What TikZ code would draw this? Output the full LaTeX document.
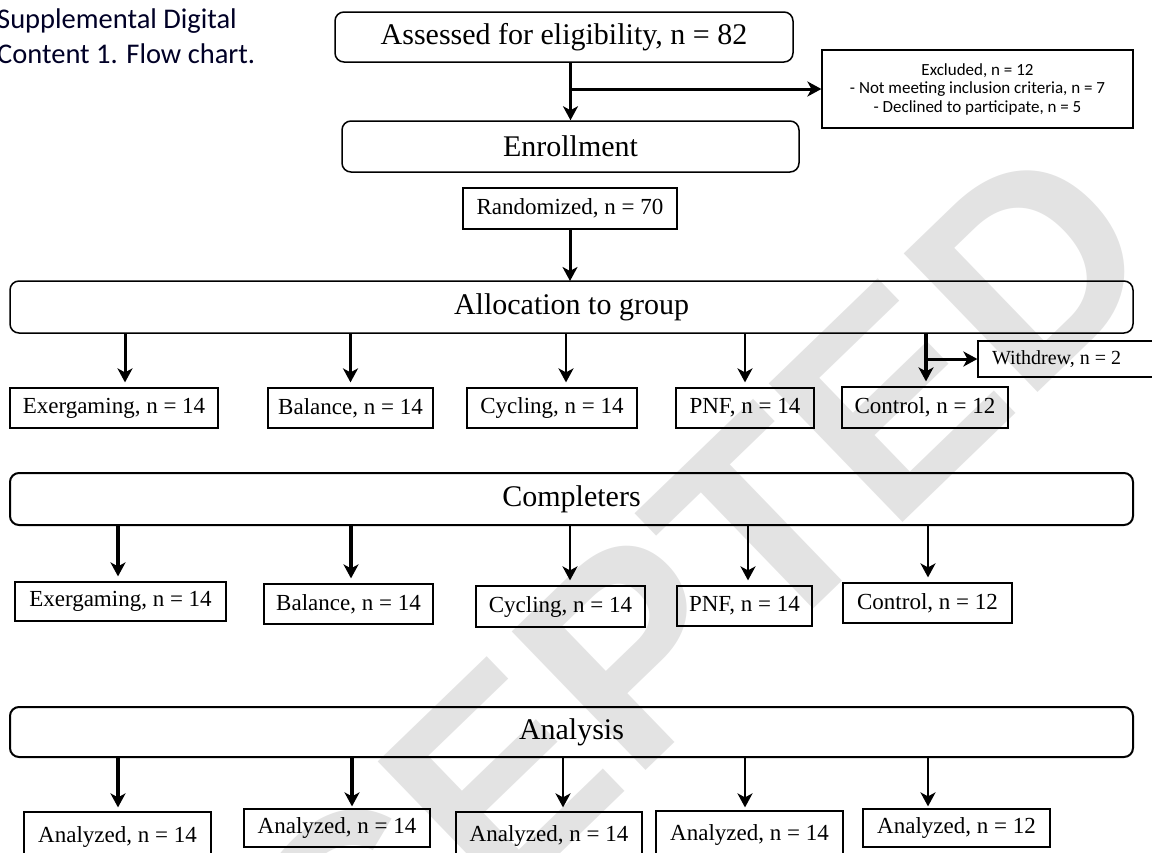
\documentclass[tikz,border=0pt]{standalone}
\usepackage{fontspec}
\setmainfont{Liberation Serif}
\newfontfamily\calib{Carlito}
\newfontfamily\wmfont{Liberation Sans}
\usetikzlibrary{arrows.meta,calc}
\begin{document}
\begin{tikzpicture}[x=1pt,y=-1pt,
 rbox/.style={draw, rounded corners=9pt, line width=1.5pt, inner sep=0pt, font=\fontsize{30}{34}\selectfont},
 sbox/.style={draw, line width=1.2pt, inner sep=0pt, minimum height=40pt, font=\fontsize{23}{27}\selectfont},
 arr/.style={line width=3pt, -{Stealth[length=14pt,width=15pt,inset=4pt]}},
 tarr/.style={arr, shorten >=5pt},
 thin/.style={line width=2.4pt},
]
\useasboundingbox (0,0) rectangle (1152,852);
% watermark
\node[rotate=44, anchor=base east, text=black!11, font=\wmfont\bfseries\fontsize{280}{280}\selectfont, inner sep=0pt] (wm) at (1170,265) {ACCEPTED};
% title
\node[anchor=north west, align=left, inner sep=0pt, text=black!85!blue, font=\calib\fontsize{28.5}{35}\selectfont] (title) at (-3,9) {Supplemental Digital\\Content 1. Flow chart.};
% top part
\node[rbox, minimum width=458pt, minimum height=50pt] (assess) at (564,37) {Assessed for eligibility, n = 82};
\node[rbox, minimum width=457pt, minimum height=51pt] (enroll) at (570.5,146.5) {Enrollment};
\node[draw, line width=1.2pt, inner sep=0pt, minimum width=311pt, minimum height=78pt, align=center, font=\calib\fontsize{17}{18.5}\selectfont] (excl) at (977.5,89) {Excluded, n = 12\\- Not meeting inclusion criteria, n = 7\\- Declined to participate, n = 5};
\node[sbox, minimum width=214pt, minimum height=41pt] (rand) at (570,208.5) {Randomized, n = 70};
\draw[arr] (enroll.north |- assess.south) -- (enroll.north);
\draw[arr] (enroll.north |- excl.west) -- (excl.west);
\draw[arr] (rand.south) -- (rand.south |- 0,281);
% allocation
\node[rbox, minimum width=1123pt, minimum height=52pt] (alloc) at (571.5,307) {Allocation to group};
\begin{scope}[every node/.append style={font=\fontsize{23.5}{27}\selectfont}]
\node[sbox, minimum width=208pt] (g1) at (114,408) {Exergaming, n = 14};
\node[sbox, minimum width=165pt] (g2) at (350.5,408) {Balance, n = 14};
\node[sbox, minimum width=170pt] (g3) at (552,408) {Cycling, n = 14};
\node[sbox, minimum width=138pt] (g4) at (745,408) {PNF, n = 14};
\node[sbox, minimum width=166pt, minimum height=41pt] (g5) at (925,407.5) {Control, n = 12};
\end{scope}
\node[draw, line width=1.2pt, inner ysep=0pt, inner xsep=14pt, text width=160pt, align=flush left, minimum height=36pt, font=\fontsize{20}{24}\selectfont] (wd) at (1072,359) {\noindent Withdrew, n = 2};
\draw[tarr] ([xshift=11pt]g1.north |- alloc.south) -- ([xshift=11pt]g1.north);
\draw[tarr, line width=3.5pt] ([xshift=0pt]g2.north |- alloc.south) -- ([xshift=0pt]g2.north);
\draw[tarr, thin] ([xshift=14pt]g3.north |- alloc.south) -- ([xshift=14pt]g3.north);
\draw[tarr, thin] ([xshift=0pt]g4.north |- alloc.south) -- ([xshift=0pt]g4.north);
\draw[tarr, line width=4pt] ([xshift=1pt]g5.north |- alloc.south) -- ([xshift=1pt]g5.north);
\draw[arr] ([xshift=1pt]g5.north |- wd.west) -- (wd.west);
% completers
\node[rbox, line width=2pt, minimum width=1123pt, minimum height=52pt] (comp) at (571.5,499) {Completers};
\node[sbox, minimum width=211pt, minimum height=39pt] (c1) at (120.5,601.5) {Exergaming, n = 14};
\node[sbox, minimum width=169pt] (c2) at (348.5,604) {Balance, n = 14};
\node[sbox, minimum width=169pt, minimum height=41pt] (c3) at (560.5,606.5) {Cycling, n = 14};
\node[sbox, minimum width=135pt] (c4) at (744.5,606) {PNF, n = 14};
\node[sbox, minimum width=169pt] (c5) at (927.5,603) {Control, n = 12};
\draw[tarr, line width=3.5pt] ([xshift=-2.5pt]c1.north |- comp.south) -- ([xshift=-2.5pt]c1.north);
\draw[tarr, line width=3.5pt] ([xshift=2.5pt]c2.north |- comp.south) -- ([xshift=2.5pt]c2.north);
\draw[tarr, thin] ([xshift=9.5pt]c3.north |- comp.south) -- ([xshift=9.5pt]c3.north);
\draw[tarr, thin] ([xshift=3.5pt]c4.north |- comp.south) -- ([xshift=3.5pt]c4.north);
\draw[tarr, thin] ([xshift=0.5pt]c5.north |- comp.south) -- ([xshift=0.5pt]c5.north);
% analysis
\node[rbox, line width=2pt, minimum width=1123pt, minimum height=50pt] (anal) at (571.5,732) {Analysis};
\node[sbox, minimum width=187pt, minimum height=50pt] (a1) at (117.5,837) {Analyzed, n = 14};
\node[sbox, minimum width=186pt, minimum height=38pt] (a2) at (337,828) {Analyzed, n = 14};
\node[sbox, minimum width=186pt, minimum height=48pt] (a3) at (549,836) {Analyzed, n = 14};
\node[sbox, minimum width=187pt, minimum height=48pt] (a4) at (749.5,835) {Analyzed, n = 14};
\node[sbox, minimum width=187pt, minimum height=38pt] (a5) at (956.5,828) {Analyzed, n = 12};
\draw[tarr, line width=3.5pt, shorten >=4pt] ([xshift=0.5pt]a1.north |- anal.south) -- ([xshift=0.5pt]a1.north);
\draw[tarr, line width=3.5pt, shorten >=2pt] ([xshift=15pt]a2.north |- anal.south) -- ([xshift=15pt]a2.north);
\draw[tarr, thin, shorten >=4pt] ([xshift=14pt]a3.north |- anal.south) -- ([xshift=14pt]a3.north);
\draw[tarr, thin, shorten >=3pt] ([xshift=-4.5pt]a4.north |- anal.south) -- ([xshift=-4.5pt]a4.north);
\draw[tarr, thin, shorten >=2pt] ([xshift=-28.5pt]a5.north |- anal.south) -- ([xshift=-28.5pt]a5.north);
\end{tikzpicture}
\end{document}
